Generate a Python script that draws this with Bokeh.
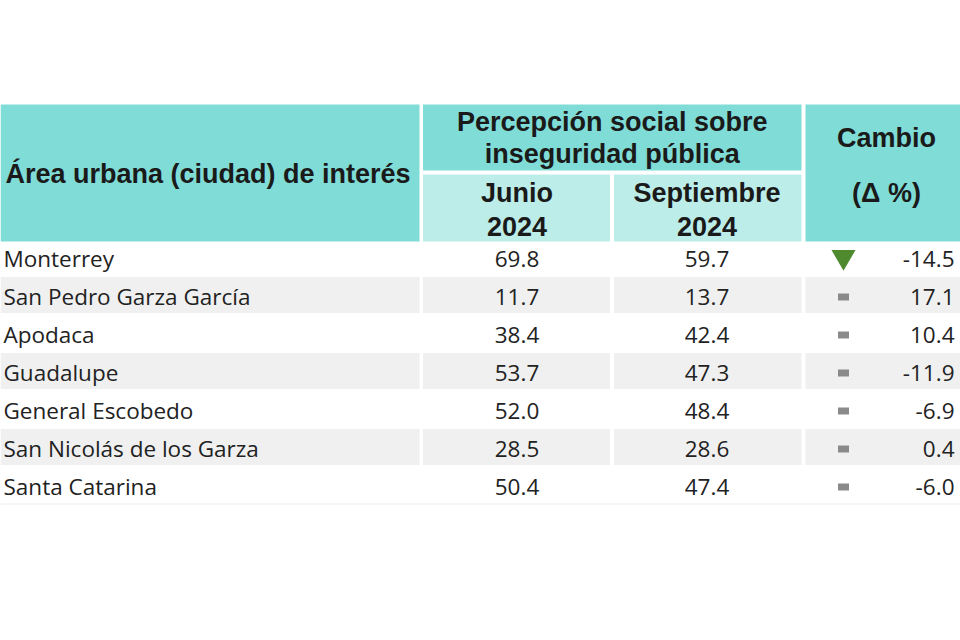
from bokeh.plotting import figure
from bokeh.models import ColumnDataSource
from bokeh.core.properties import value
from bokeh.embed import file_html
from bokeh.resources import INLINE

# ---- data ----
cities = ["Monterrey", "San Pedro Garza García", "Apodaca", "Guadalupe",
          "General Escobedo", "San Nicolás de los Garza", "Santa Catarina"]
junio = [69.8, 11.7, 38.4, 53.7, 52.0, 28.5, 50.4]
septiembre = [59.7, 13.7, 42.4, 47.3, 48.4, 28.6, 47.4]
cambio = [-14.5, 17.1, 10.4, -11.9, -6.9, 0.4, -6.0]
trend = ["down", "same", "same", "same", "same", "same", "same"]

header_area = "Área urbana (ciudad) de interés"
header_percep = ["Percepción social sobre", "inseguridad pública"]
header_junio = ["Junio", "2024"]
header_sept = ["Septiembre", "2024"]
header_cambio = ["Cambio", "(Δ %)"]

# ---- layout (pixel-like coordinates) ----
W, H = 960, 640
p = figure(width=W, height=H, x_range=(0, W), y_range=(H, 0),
           output_backend="svg", toolbar_location=None, min_border=0)
p.axis.visible = False
p.grid.visible = False
p.outline_line_color = None
p.background_fill_color = "white"
p.border_fill_color = "white"

DARK = "#80dcd6"
LIGHT = "#bdede9"
BAND = "#f0f0f0"
TXT = "#1a1a1a"
BODY = "#222222"

# column edges
c1 = (0, 419)
c2 = (422.5, 609.5)
c3 = (613.5, 801)
c4 = (805, 962)
h_top, h_mid1, h_mid2, h_bot = 104, 170, 174, 241

# header cells
hl = [c1[0], c2[0], c2[0], c3[0], c4[0]]
hr = [c1[1], c3[1], c2[1], c3[1], c4[1]]
ht = [h_top, h_top, h_mid2, h_mid2, h_top]
hb = [h_bot, h_mid1, h_bot, h_bot, h_bot]
hc = [DARK, DARK, LIGHT, LIGHT, DARK]
p.quad(left=hl, right=hr, top=ht, bottom=hb, fill_color=hc, line_color=None)

# rows
row_top = 238.5
row_h = 38.0
n = len(cities)
tops = [row_top + i * row_h for i in range(n)]
bots = [t + row_h - 2 for t in tops]
mids = [t + 19.5 for t in tops]

band_l, band_r, band_t, band_b = [], [], [], []
for i in range(n):
    if i % 2 == 1:
        for c in (c1, c2, c3, c4):
            band_l.append(c[0]); band_r.append(c[1])
            band_t.append(tops[i]); band_b.append(bots[i])
p.quad(left=band_l, right=band_r, top=band_t, bottom=band_b,
       fill_color=BAND, line_color=None)

# bottom faint line
yb = tops[-1] + row_h - 1
p.segment(x0=[0], y0=[yb], x1=[962], y1=[yb],
          line_color="#ececec", line_width=1)

# header texts
hfont = value("Liberation Sans")
HS = "27px"
p.text(x=[5], y=[173], text=[header_area], text_font=hfont,
       text_font_style="bold", text_font_size=HS, text_color=TXT,
       text_align="left", text_baseline="middle")
cx2 = (c2[0] + c3[1]) / 2
p.text(x=[cx2, cx2], y=[121, 153], text=header_percep, text_font=hfont,
       text_font_style="bold", text_font_size=HS, text_color=TXT,
       text_align="center", text_baseline="middle")
cj = 516.5
cs = 706.5
p.text(x=[cj, cj], y=[192, 226], text=header_junio, text_font=hfont,
       text_font_style="bold", text_font_size=HS, text_color=TXT,
       text_align="center", text_baseline="middle")
p.text(x=[cs, cs], y=[192, 226], text=header_sept, text_font=hfont,
       text_font_style="bold", text_font_size=HS, text_color=TXT,
       text_align="center", text_baseline="middle")
cc = 886
p.text(x=[cc, cc], y=[137, 192], text=header_cambio, text_font=hfont,
       text_font_style="bold", text_font_size=HS, text_color=TXT,
       text_align="center", text_baseline="middle")

# body texts
bfont = value("Open Sans")
BS = "22.5px"
src = ColumnDataSource(dict(
    city=cities,
    jun=[f"{v:.1f}" for v in junio],
    sep=[f"{v:.1f}" for v in septiembre],
    cam=[f"{v:.1f}" for v in cambio],
    y=mids,
))
p.text(x=3, y="y", text="city", source=src, text_font=bfont,
       text_font_size=BS, text_color=BODY,
       text_align="left", text_baseline="middle")
p.text(x=cj, y="y", text="jun", source=src, text_font=bfont,
       text_font_size=BS, text_color=BODY,
       text_align="center", text_baseline="middle")
p.text(x=cs, y="y", text="sep", source=src, text_font=bfont,
       text_font_size=BS, text_color=BODY,
       text_align="center", text_baseline="middle")
p.text(x=954, y="y", text="cam", source=src, text_font=bfont,
       text_font_size=BS, text_color=BODY,
       text_align="right", text_baseline="middle")

# indicators
down_y = [mids[i] - 1.5 for i in range(n) if trend[i] == "down"]
same_y = [mids[i] + 0.5 for i in range(n) if trend[i] == "same"]
p.scatter(x=[843] * len(down_y), y=down_y, marker="inverted_triangle",
          size=24, fill_color="#4f8a2f", line_color=None)
p.rect(x=[843] * len(same_y), y=same_y, width=11, height=7,
       fill_color="#8a8a8a", line_color=None)

open("out.html", "w").write(file_html(p, INLINE))
